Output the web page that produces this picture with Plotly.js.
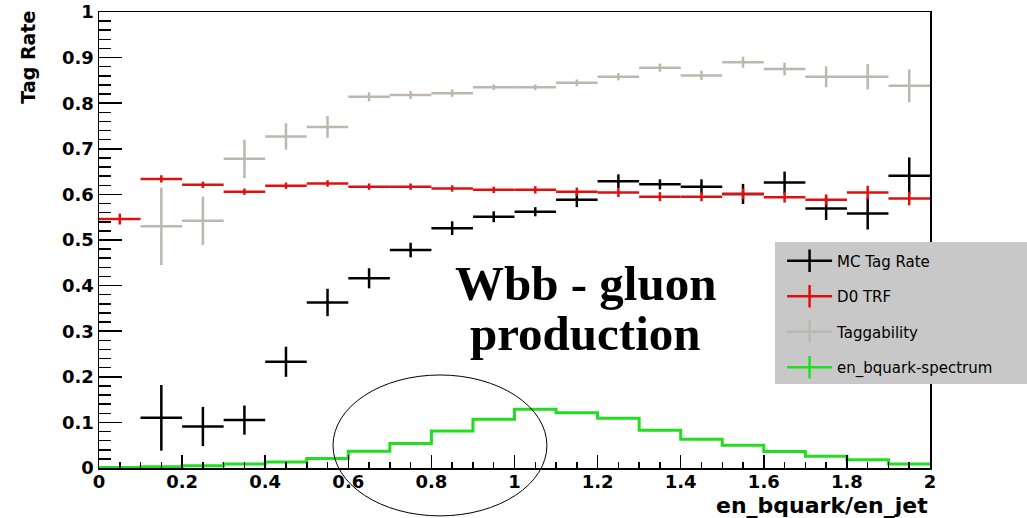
<!DOCTYPE html>
<html>
<head>
<meta charset="utf-8">
<script src="https://cdn.plot.ly/plotly-3.0.1.min.js"></script>
<style>
  html, body { margin: 0; padding: 0; background: #ffffff; }
  #chart { width: 1027px; height: 518px; }
</style>
</head>
<body>
<div id="chart"></div>
<script>
// Bin centres of en_bquark/en_jet (bin width 0.1)
const binCenters = [0.05, 0.15, 0.25, 0.35, 0.45, 0.55, 0.65, 0.75, 0.85, 0.95,
                    1.05, 1.15, 1.25, 1.35, 1.45, 1.55, 1.65, 1.75, 1.85, 1.95];
const binHalfWidth = 0.05;

// MC tag rate per bin and its uncertainty
const mcTagRate = [null, 0.110, 0.091, 0.105, 0.233, 0.363, 0.416, 0.478, 0.526, 0.551,
                   0.562, 0.588, 0.629, 0.622, 0.617, 0.601, 0.626, 0.569, 0.558, 0.641];
const mcTagErr  = [null, 0.072, 0.043, 0.032, 0.033, 0.030, 0.022, 0.016, 0.015, 0.012,
                   0.010, 0.016, 0.015, 0.011, 0.016, 0.022, 0.024, 0.025, 0.035, 0.040];

// D0 tag rate function
const d0Trf    = [0.546, 0.634, 0.621, 0.606, 0.619, 0.624, 0.617, 0.617, 0.613, 0.610,
                  0.610, 0.606, 0.604, 0.595, 0.595, 0.601, 0.594, 0.588, 0.604, 0.591];
const d0TrfErr = [0.012, 0.008, 0.007, 0.007, 0.007, 0.007, 0.007, 0.007, 0.007, 0.007,
                  0.008, 0.009, 0.010, 0.010, 0.010, 0.012, 0.012, 0.012, 0.015, 0.015];

// Taggability
const taggability    = [null, 0.530, 0.542, 0.678, 0.727, 0.748, 0.814, 0.818, 0.822, 0.835,
                        0.835, 0.845, 0.858, 0.878, 0.861, 0.890, 0.875, 0.858, 0.858, 0.838];
const taggabilityErr = [null, 0.085, 0.053, 0.042, 0.029, 0.024, 0.010, 0.009, 0.008, 0.006,
                        0.006, 0.007, 0.008, 0.009, 0.010, 0.012, 0.014, 0.023, 0.028, 0.036];

// b-quark energy spectrum (normalised histogram contents)
const bquarkSpectrum = [0.001, 0.003, 0.005, 0.009, 0.013, 0.021, 0.037, 0.054, 0.081, 0.107,
                        0.129, 0.121, 0.109, 0.083, 0.063, 0.050, 0.036, 0.026, 0.018, 0.009];

// Axis tick labels
const xTickVals = [0, 0.2, 0.4, 0.6, 0.8, 1, 1.2, 1.4, 1.6, 1.8, 2];
const xTickText = ['0', '0.2', '0.4', '0.6', '0.8', '1', '1.2', '1.4', '1.6', '1.8', '2'];
const yTickVals = [0, 0.1, 0.2, 0.3, 0.4, 0.5, 0.6, 0.7, 0.8, 0.9, 1];
const yTickText = ['0', '0.1', '0.2', '0.3', '0.4', '0.5', '0.6', '0.7', '0.8', '0.9', '1'];

const seriesNames = ['MC Tag Rate', 'D0 TRF', 'Taggability', 'en_bquark-spectrum'];
const seriesColors = ['#000000', '#e01010', '#bcb8b0', '#22dd22'];

// Histogram outline: bin edges, last content repeated to close the final step
const binEdges = binCenters.map(c => +(c - binHalfWidth).toFixed(2))
  .concat([+(binCenters[binCenters.length - 1] + binHalfWidth).toFixed(2)]);
const stepValues = bquarkSpectrum.concat([bquarkSpectrum[bquarkSpectrum.length - 1]]);

const bold = s => '<b>' + s + '</b>';

function errTrace(y, err, color) {
  return {
    type: 'scatter', mode: 'markers', x: binCenters, y: y,
    marker: { size: 1, color: color, opacity: 0 },
    error_x: { type: 'constant', value: binHalfWidth, width: 0, thickness: 2.5, color: color },
    error_y: { type: 'data', array: err, width: 0, thickness: 2.5, color: color, visible: true },
    showlegend: false, hoverinfo: 'x+y'
  };
}

function legendTrace(i) {
  return {
    type: 'scatter', mode: 'lines+markers', x: [null], y: [null],
    name: seriesNames[i], legendgroup: 'g' + i,
    line: { color: seriesColors[i], width: 2.5 },
    marker: { symbol: 'line-ns', size: 16, line: { color: seriesColors[i], width: 2.5 } }
  };
}

const traces = [
  errTrace(taggability, taggabilityErr, seriesColors[2]),
  errTrace(mcTagRate, mcTagErr, seriesColors[0]),
  errTrace(d0Trf, d0TrfErr, seriesColors[1]),
  {
    type: 'scatter', mode: 'lines', x: binEdges, y: stepValues,
    line: { shape: 'hv', color: seriesColors[3], width: 3 },
    showlegend: false
  },
  legendTrace(0), legendTrace(1), legendTrace(2), legendTrace(3)
];

const tickFont = { family: 'DejaVu Sans', size: 18, color: '#000000' };

const layout = {
  width: 1027, height: 518,
  margin: { l: 99, r: 97, t: 12, b: 50, pad: 0 },
  paper_bgcolor: '#ffffff', plot_bgcolor: '#ffffff',
  showlegend: true,
  legend: {
    x: 0.822, xanchor: 'left', y: 0.49, yanchor: 'top',
    bgcolor: 'rgba(0,0,0,0)', borderwidth: 0,
    itemwidth: 45, tracegroupgap: 13,
    font: { family: 'DejaVu Sans', size: 15, color: '#000000' }
  },
  xaxis: {
    range: [0, 2], tickmode: 'array', tickvals: xTickVals, ticktext: xTickText.map(bold),
    showgrid: false, zeroline: false,
    showline: true, linecolor: '#000000', linewidth: 1.5, mirror: true,
    ticks: 'inside', ticklen: 13, tickwidth: 1.5, tickcolor: '#000000',
    minor: { dtick: 0.05, ticks: 'inside', ticklen: 6, tickwidth: 1.5, tickcolor: '#000000' },
    tickfont: tickFont, ticklabelstandoff: -3
  },
  yaxis: {
    range: [0, 1], tickmode: 'array', tickvals: yTickVals, ticktext: yTickText.map(bold),
    showgrid: false, zeroline: false,
    showline: true, linecolor: '#000000', linewidth: 1.5, mirror: true,
    ticks: 'inside', ticklen: 23, tickwidth: 1.5, tickcolor: '#000000',
    minor: { dtick: 0.02, ticks: 'inside', ticklen: 12, tickwidth: 1.5, tickcolor: '#000000' },
    tickfont: tickFont, ticklabelstandoff: 0
  },
  shapes: [
    // legend panel
    { type: 'rect', xref: 'paper', yref: 'paper', x0: 0.8135, x1: 1.13, y0: 0.184, y1: 0.4956,
      fillcolor: '#c8c8c8', line: { width: 0 }, layer: 'above' },
    // highlight ellipse around the spectrum peak
    { type: 'circle', xref: 'paper', yref: 'paper', x0: 0.2816, x1: 0.539, y0: -0.105, y1: 0.204,
      line: { color: '#000000', width: 1 }, fillcolor: 'rgba(0,0,0,0)', layer: 'above' }
  ],
  annotations: [
    { text: '<b>Tag Rate</b>', xref: 'paper', yref: 'paper', x: -0.0854, y: 0.90,
      xanchor: 'center', yanchor: 'middle', textangle: -90, showarrow: false,
      font: { family: 'DejaVu Sans', size: 19, color: '#000000' } },
    { text: '<b>en_bquark/en_jet</b>', xref: 'paper', yref: 'paper', x: 1, y: -0.083,
      xanchor: 'right', yanchor: 'middle', showarrow: false,
      font: { family: 'DejaVu Sans', size: 22, color: '#000000' } },
    { text: '<b>Wbb - gluon</b>', xref: 'paper', yref: 'paper', x: 0.585, y: 0.4046,
      xanchor: 'center', yanchor: 'middle', showarrow: false,
      font: { family: 'Liberation Serif', size: 49, color: '#000000' } },
    { text: '<b>production</b>', xref: 'paper', yref: 'paper', x: 0.585, y: 0.295,
      xanchor: 'center', yanchor: 'middle', showarrow: false,
      font: { family: 'Liberation Serif', size: 49, color: '#000000' } }
  ]
};

Plotly.newPlot('chart', traces, layout, { displayModeBar: false, staticPlot: true });
</script>
</body>
</html>
